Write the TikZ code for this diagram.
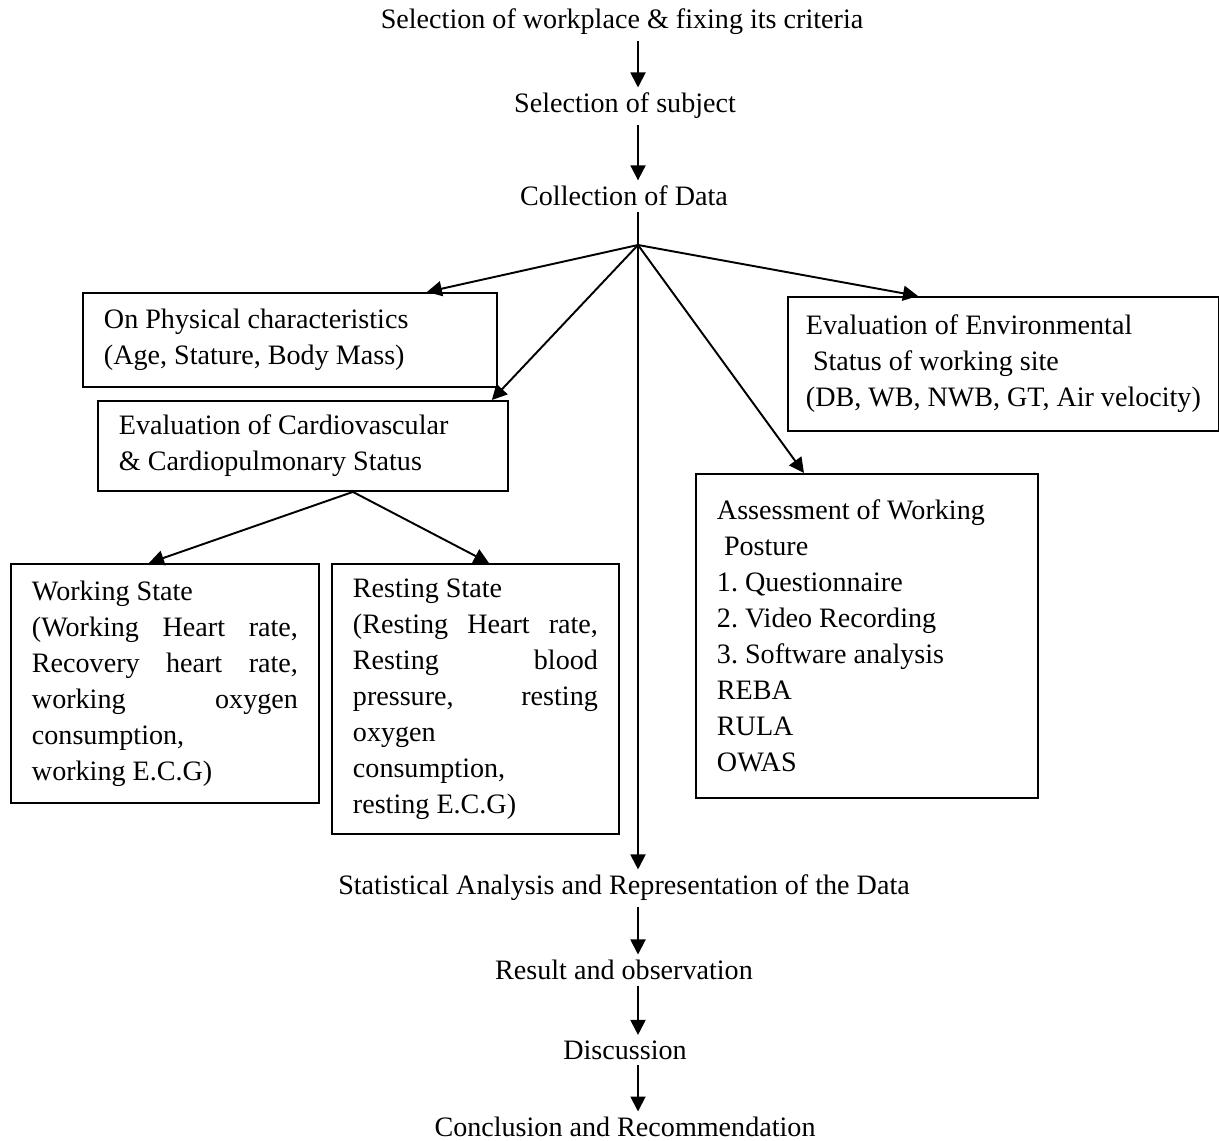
\documentclass[tikz,border=0pt]{standalone}
\usepackage{fontspec}
\setmainfont{Liberation Serif}
\usepackage{tikz}
\usetikzlibrary{arrows.meta,positioning,calc}
\newcommand{\plainspace}{\spaceskip=0pt\xspaceskip=0pt\relax}
\newcommand{\spreadline}[2]{\makebox[#1][s]{\plainspace #2}}

\begin{document}
\begin{tikzpicture}[
  x=0.02cm,y=-0.02cm,
  font=\fontsize{16pt}{20.5pt}\selectfont\frenchspacing,
  txt/.style={inner sep=3pt},
  box/.style={draw,line width=1.1pt,anchor=north west,align=left,inner xsep=0.42cm,inner ysep=2pt,execute at begin node=\plainspace},
  arr/.style={-{Triangle[length=3mm,width=3mm]},line width=1.1pt}
]
\useasboundingbox (0,0) rectangle (1219,1141);

% main column
\node[txt] (crit) at (622,22) {Selection of workplace \& fixing its criteria};
\node[txt] (subj) at (625,106) {Selection of subject};
\node[txt] (coll) at (624,196) {Collection of Data};
\coordinate (hub) at (638,245);

% data collection boxes
\node[box,text width=7.44cm,minimum height=1.88cm] (phys) at (82,292) {On Physical characteristics\\(Age, Stature, Body Mass)};
\node[box,text width=7.36cm,minimum height=1.8cm] (cardio) at (97,400) {Evaluation of Cardiovascular\\\& Cardiopulmonary Status};
\node[box,inner xsep=0.36cm,text width=7.9cm,minimum height=2.68cm] (env) at (787,296) {Evaluation of Environmental\\\hspace*{0.25em}Status of working site\\(DB, WB, NWB, GT, Air velocity)};
\node[box,text width=6cm,minimum height=6.48cm] (posture) at (695,473) {Assessment of Working\\\hspace*{0.25em}Posture\\1. Questionnaire\\2. Video Recording\\3. Software analysis\\REBA\\RULA\\OWAS};

\node[box,text width=5.32cm,minimum height=4.78cm] (work) at (10,563) {Working State\\\spreadline{5.32cm}{(Working Heart rate,}\\\spreadline{5.32cm}{Recovery heart rate,}\\\spreadline{5.32cm}{working oxygen}\\consumption,\\working E.C.G)};
\node[box,text width=4.9cm,minimum height=5.4cm] (rest) at (331,563) {Resting State\\\spreadline{4.9cm}{(Resting Heart rate,}\\\spreadline{4.9cm}{Resting blood}\\\spreadline{4.9cm}{pressure, resting}\\oxygen\\consumption,\\resting E.C.G)};

% analysis column
\node[txt] (stat) at (624,888) {Statistical Analysis and Representation of the Data};
\node[txt] (res) at (624,970) {Result and observation};
\node[txt] (disc) at (625,1050) {Discussion};
\node[txt] (concl) at (625,1127) {Conclusion and Recommendation};

\draw[arr] (crit.south -| hub) -- (subj.north -| hub);
\draw[arr] (subj.south -| hub) -- (coll.north -| hub);
\draw[line width=1.1pt] (coll.south -| hub) -- (hub);
\draw[arr] (hub) -- ([xshift=-1.42cm]phys.north east);
\draw[arr] (hub) -- ([xshift=-0.34cm]cardio.north east);
\draw[arr] (hub) -- ([xshift=2.62cm]env.north west);
\draw[arr] (hub) -- ([xshift=2.18cm]posture.north west);
\draw[arr] (hub) -- (stat.north -| hub);
\draw[arr] ([xshift=1cm]cardio.south) -- ([xshift=-0.32cm]work.north);
\draw[arr] ([xshift=1cm]cardio.south) -- ([xshift=0.27cm]rest.north);
\draw[arr] (stat.south -| hub) -- (res.north -| hub);
\draw[arr] (res.south -| hub) -- (disc.north -| hub);
\draw[arr] (disc.south -| hub) -- (concl.north -| hub);
\end{tikzpicture}
\end{document}
